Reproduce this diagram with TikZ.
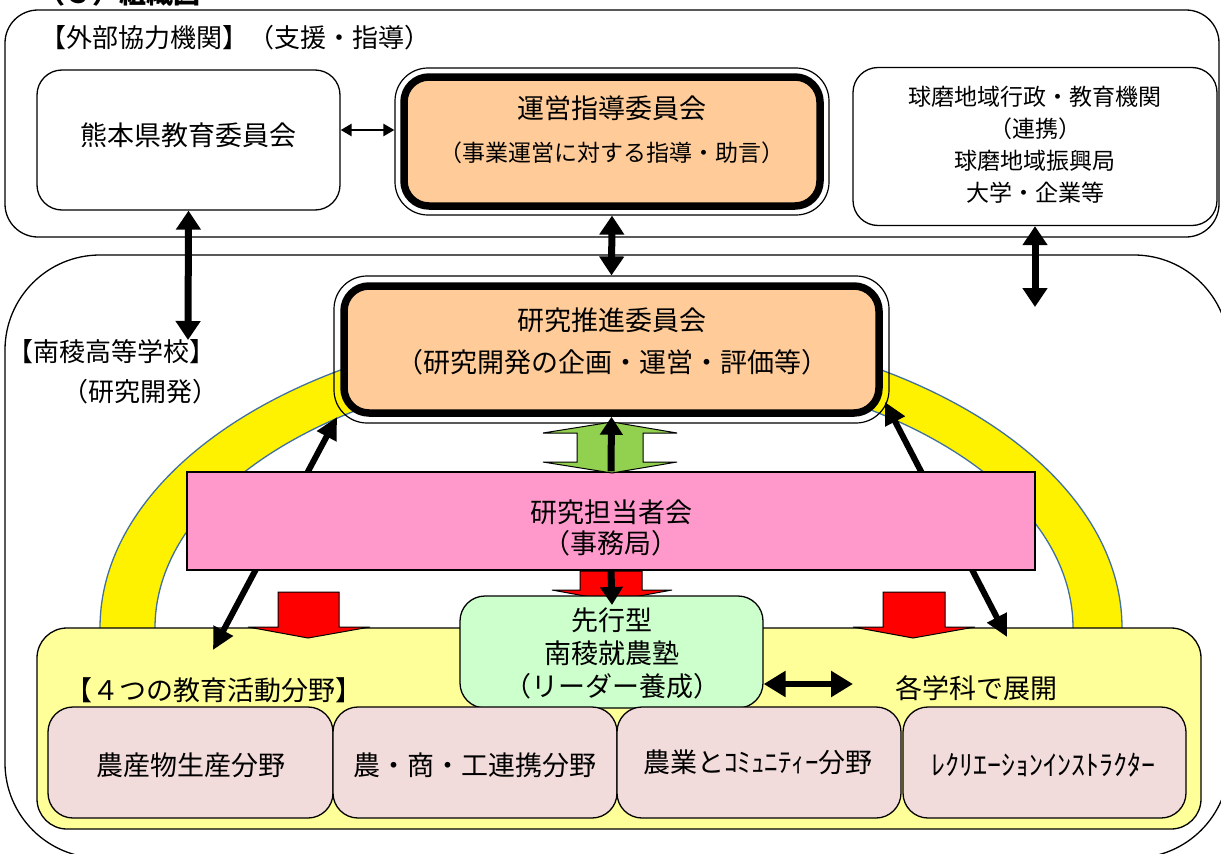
\documentclass[tikz,border=0pt]{standalone}
\usepackage{fontspec}
\setmainfont{Noto Sans CJK JP}
\usetikzlibrary{arrows.meta,calc}
\definecolor{peach}{RGB}{255,204,153}
\definecolor{pinkA}{RGB}{255,153,204}
\definecolor{greenA}{RGB}{146,208,80}
\definecolor{yellowbox}{RGB}{255,255,153}
\definecolor{greenbox}{RGB}{204,255,204}
\definecolor{rosebox}{RGB}{242,220,219}
\definecolor{archline}{RGB}{65,113,156}
\newcommand\jf[2]{\fontsize{#1}{#2}\selectfont}
\begin{document}
\begin{tikzpicture}[x=1pt,y=-1pt,
  rbox/.style={draw, line width=1.3pt, rounded corners=#1, inner sep=0pt},
  thickbox/.style={draw, line width=7.5pt, rounded corners=#1, inner sep=0pt, fill=peach},
  thinring/.style={draw, line width=1.2pt, rounded corners=#1, inner sep=0pt},
  txt/.style={inner sep=0pt, align=center},
  barr/.style={line width=7pt, arrows={Triangle[length=19pt,width=24pt]-Triangle[length=19pt,width=24pt]}},
  darr/.style={line width=6pt, arrows={Triangle[length=22pt,width=21pt]-Triangle[length=22pt,width=21pt]}},
  uarr/.style={line width=7pt, arrows={-Triangle[length=18pt,width=22pt]}},
  tarr/.style={line width=2.5pt, arrows={Triangle[length=11pt,width=12pt]-Triangle[length=11pt,width=12pt]}},
  blockarrow/.style={line width=1pt, draw=black}
]
\useasboundingbox (0,0) rectangle (1221,854);

% title (cut off at top, as in the reference)
\node[anchor=base west, inner sep=0pt, font=\bfseries\jf{27}{30}] (title) at (38,3) {（３）組織図};

% outer frames
\node[rbox=33, minimum width=1214pt, minimum height=227pt] (topbox) at (612,123.5) {};
\node[rbox=95, minimum width=1224pt, minimum height=603pt] (schoolbox) at (617,556.5) {};

\node[txt, font=\jf{26}{30}] (gaibu) at (235,38) {【外部協力機関】（支援・指導）};
\node[txt, font=\jf{26}{30}] (nanryo) at (112,352) {【南稜高等学校】};
\node[txt, font=\jf{26}{30}] (kenkyu) at (140,392) {（研究開発）};

% yellow arch
\path[fill=yellow, draw=archline, line width=1.3pt]
  (1122,640) -- (1122,628) arc[start angle=0, end angle=-180, x radius=511, y radius=304]
  -- (100,640) -- (155,640) -- (155,628)
  arc[start angle=-180, end angle=0, x radius=459, y radius=263] -- (1073,640) -- cycle;

% yellow box of the four fields
\node[rbox=30, fill=yellowbox, minimum width=1164pt, minimum height=201pt] (yellow) at (619,728.5) {};

% coordinates for arrows
\coordinate (dlA) at (213,650);
\coordinate (dlB) at (337,417);
\coordinate (drA) at (885,402);
\coordinate (drB) at (1007,637);
\coordinate (leftEnd) at (188,340);
\coordinate (rightEnd) at (1035,307);
\coordinate (hEnd) at (853,684);

% research promotion committee
\node[thinring=33, minimum width=555pt, minimum height=147pt] (suishinRing) at (611.5,349.5) {};
\node[thickbox=25, minimum width=535pt, minimum height=127pt] (suishin) at (611.5,349.5) {};
\node[txt, font=\jf{27}{30}] (suishinA) at (612,320) {研究推進委員会};
\node[txt, font=\jf{27}{30}] (suishinB) at (612,362) {（研究開発の企画・運営・評価等）};

% diagonal arrows (behind pink box)
\draw[darr] (dlA) -- (dlB);
\draw[darr] (drA) -- (drB);

% steering committee
\node[thinring=33, minimum width=434pt, minimum height=147pt] (uneiRing) at (612,141.5) {};
\node[thickbox=25, minimum width=416pt, minimum height=129pt] (unei) at (612,141.5) {};
\node[txt, font=\jf{27}{30}] (uneiA) at (612,108) {運営指導委員会};
\node[txt, font=\jf{23}{26}] (uneiB) at (612,153) {（事業運営に対する指導・助言）};

% Kumamoto board
\node[rbox=25, fill=white, minimum width=303pt, minimum height=140pt] (kumamoto) at (188.5,140) {};
\node[txt, font=\jf{27}{30}] (kumamotoT) at (188,135) {熊本県教育委員会};

% regional partners
\node[rbox=25, fill=white, minimum width=364pt, minimum height=158pt] (renkei) at (1035,146.5) {};
\node[txt, font=\jf{23}{32}] (renkeiT) at (1035,145) {球磨地域行政・教育機関\\（連携）\\球磨地域振興局\\大学・企業等};

% arrows between top-level bodies
\draw[tarr] ($(kumamoto.east)+(0,-10)$) -- ($(uneiRing.west)+(0,-11.5)$);
\draw[barr] (uneiRing.south) -- (suishinRing.north);
\draw[barr] (kumamoto.south) -- (leftEnd);
\draw[barr] (renkei.south) -- (rightEnd);

% pink box
\node[draw, line width=1.3pt, fill=pinkA, minimum width=848pt, minimum height=98pt, inner sep=0pt] (tanto) at (611,521) {};
\node[txt, font=\jf{27}{31}] (tantoT) at (611,528) {研究担当者会\\（事務局）};

% green up-down arrow and black arrow
\filldraw[blockarrow, fill=greenA] (612,422) -- (677,433) -- (643,433) -- (643,462) -- (677,462) -- (612,473)
  -- (543,462) -- (577,462) -- (577,433) -- (543,433) -- cycle;
\draw[uarr] (tanto.north) -- (suishin.south);

% red block arrows
\filldraw[blockarrow, fill=red] (580,571) -- (642,571) -- (642,590) -- (672,590) -- (612,601) -- (552,590) -- (580,590) -- cycle;
\filldraw[blockarrow, fill=red] (278,592) -- (339,592) -- (339,627) -- (370,627) -- (308,638) -- (248,627) -- (278,627) -- cycle;
\filldraw[blockarrow, fill=red] (883,592) -- (945,592) -- (945,627) -- (975,627) -- (913,638) -- (853,627) -- (883,627) -- cycle;

% leader school
\node[rbox=25, fill=greenbox, minimum width=303pt, minimum height=112pt] (juku) at (611.5,652) {};
\node[txt, font=\jf{27}{33}] (jukuT) at (612,653) {先行型\\南稜就農塾\\（リーダー養成）};
\draw[uarr] (tanto.south) -- (612,605);
\draw[line width=6pt, arrows={Triangle[length=22pt,width=25pt]-Triangle[length=22pt,width=25pt]}] (juku.east |- hEnd) -- (hEnd);

\node[txt, font=\jf{27}{30}] (yonfield) at (214,690) {【４つの教育活動分野】};
\node[txt, font=\jf{27}{30}] (gakka) at (976,688) {各学科で展開};

% four fields
\node[rbox=25, fill=rosebox, minimum width=285pt, minimum height=111pt] (f1) at (190.5,762.5) {};
\node[rbox=25, fill=rosebox, minimum width=284pt, minimum height=111pt] (f2) at (475,762.5) {};
\node[rbox=25, fill=rosebox, minimum width=284pt, minimum height=111pt] (f3) at (759,762.5) {};
\node[rbox=25, fill=rosebox, minimum width=283pt, minimum height=111pt] (f4) at (1044.5,762.5) {};
\node[txt, font=\jf{27}{30}] (f1T) at (191,765) {農産物生産分野};
\node[txt, font=\jf{27}{30}] (f2T) at (475,765) {農・商・工連携分野};
\node[txt, font=\jf{27}{30}] (f3T) at (758,762) {農業とｺﾐｭﾆﾃｨｰ分野};
\node[txt, font=\jf{28}{30}] (f4T) at (1043,765) {ﾚｸﾘｴｰｼｮﾝｲﾝｽﾄﾗｸﾀｰ};
\end{tikzpicture}
\end{document}
